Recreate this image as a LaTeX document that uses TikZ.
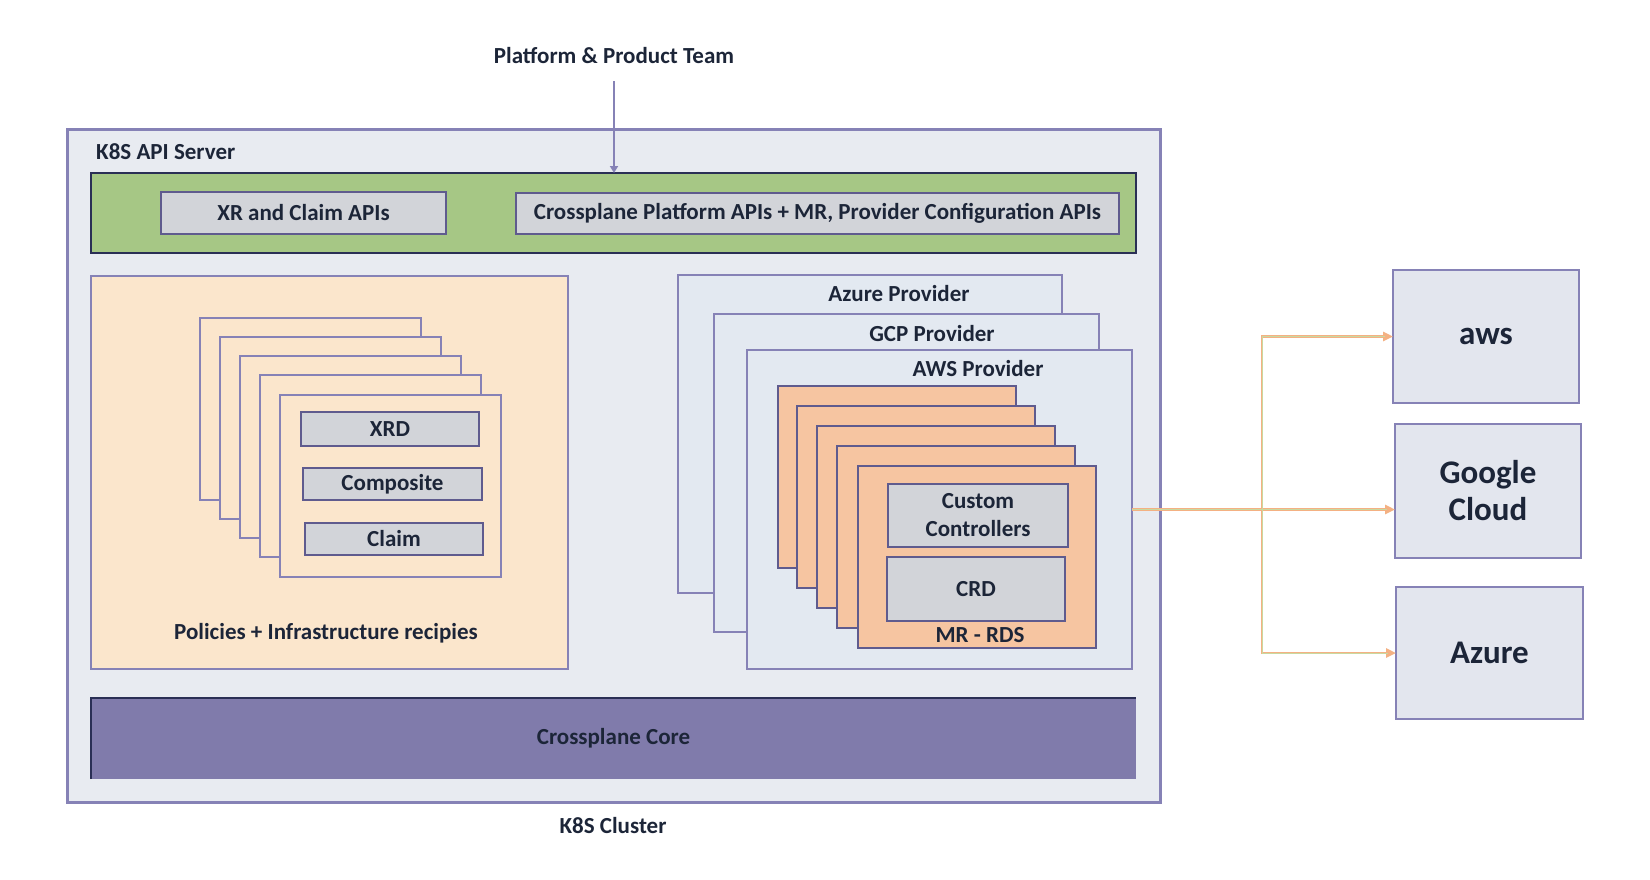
\documentclass[tikz,border=0pt]{standalone}
\usepackage{fontspec}
\setmainfont{Carlito}
\usetikzlibrary{arrows.meta}
\definecolor{purp}{HTML}{8682B6}
\definecolor{purpdark}{HTML}{5F5B8E}
\definecolor{navy}{HTML}{2A2F55}
\definecolor{outerfill}{HTML}{E8EBF1}
\definecolor{apigreen}{HTML}{A6C785}
\definecolor{greyfill}{HTML}{D2D4D9}
\definecolor{peach}{HTML}{FBE6CC}
\definecolor{provfill}{HTML}{E3E9F1}
\definecolor{orangefill}{HTML}{F6C5A1}
\definecolor{corefill}{HTML}{807BAB}
\definecolor{txt}{HTML}{1C2538}
\definecolor{connorange}{HTML}{F4B183}
\definecolor{conngreen}{HTML}{C9D9A0}
\definecolor{cloudfill}{HTML}{E3E6EE}
\begin{document}
\begin{tikzpicture}[x=1pt,y=-1pt,
  every node/.style={text=txt, font=\bfseries\fontsize{23}{28}\selectfont},
  box/.style={rectangle, anchor=north west, inner sep=0pt, outer sep=0pt, line width=2pt, draw=purp},
  lbl/.style={inner sep=0pt, anchor=base},
  apibox/.style={box, fill=greyfill, draw=purpdark, line width=1.3pt},
  leftpage/.style={box, fill=peach, line width=2.5pt, minimum width=221, minimum height=182},
  provbox/.style={box, fill=provfill, line width=2pt, minimum width=385, minimum height=318},
  mrpage/.style={box, fill=orangefill, draw=purpdark, line width=1.5pt, minimum width=238, minimum height=182},
  cloudbox/.style={box, fill=cloudfill, line width=2.5pt, align=center, font=\bfseries\fontsize{33}{37}\selectfont},
  connline/.style={draw=connorange, line width=2.8pt, -{Triangle[length=10pt,width=9pt]}},
  conncore/.style={draw=conngreen, line width=0.5pt},
]
\useasboundingbox[fill=white] (0,0) rectangle (1650,879);

% top label and arrow
\node[lbl] (team) at (614,63) {Platform \& Product Team};

% cluster
\node[box, fill=outerfill, line width=3pt, minimum width=1093, minimum height=673] (cluster) at (67,129) {};
\node[lbl, anchor=base west] (apiserver) at (96,159) {K8S API Server};

% API bar
\node[box, fill=apigreen, draw=navy, line width=1.3pt, minimum width=1045, minimum height=80] (api) at (91,173) {};
\node[apibox, minimum width=285, minimum height=42] (xr) at (161,192) {XR and Claim APIs};
\node[apibox, minimum width=603, minimum height=41] (cpapi) at (516,193) {Crossplane Platform APIs + MR, Provider Configuration APIs};

\draw[purp, line width=2pt, -{Triangle[length=7pt,width=8pt]}] ([yshift=-18pt]team.south) -- (team.south |- api.north);

% recipes area
\node[box, fill=peach, line width=2.5pt, minimum width=477, minimum height=393] (recipes) at (91,276) {};
\node[leftpage] (lp1) at (200,318) {};
\node[leftpage] (lp2) at (220,337) {};
\node[leftpage] (lp3) at (240,356) {};
\node[leftpage] (lp4) at (260,375) {};
\node[leftpage] (lp5) at (280,395) {};
\node[apibox, minimum width=178, minimum height=34] (xrd) at (301,412) {XRD};
\node[apibox, minimum width=179, minimum height=32] (composite) at (303,468) {Composite};
\node[apibox, minimum width=178, minimum height=32] (claim) at (305,523) {Claim};
\node[lbl] (policies) at (326,639) {Policies + Infrastructure recipies};

% providers
\node[provbox, minimum width=384] (azp) at (678,275) {};
\node[lbl] (azplbl) at (899,301) {Azure Provider};
\node[provbox] (gcpp) at (714,314) {};
\node[lbl] (gcplbl) at (932,341) {GCP Provider};
\node[provbox, minimum height=319] (awsp) at (747,350) {};
\node[lbl] (awslbl) at (978,376) {AWS Provider};
\node[mrpage] (mr1) at (778,386) {};
\node[mrpage] (mr2) at (797,406) {};
\node[mrpage] (mr3) at (817,426) {};
\node[mrpage] (mr4) at (837,446) {};
\node[mrpage] (mr5) at (858,466) {};
\node[apibox, minimum width=180, minimum height=63, align=center] (cc) at (888,484) {Custom\\Controllers};
\node[apibox, minimum width=178, minimum height=64] (crd) at (887,557) {CRD};
\node[lbl] (mrrds) at (980,642) {MR - RDS};

% core
\node[box, fill=corefill, draw=none, minimum width=1045, minimum height=81] (core) at (91,698) {Crossplane Core};
\draw[navy, line width=1.3pt] (core.south west) -- (core.north west) -- (core.north east);

\node[lbl] (clusterlbl) at (613,833) {K8S Cluster};

% clouds
\node[cloudbox, minimum width=186, minimum height=133] (awsc) at (1393,270) {aws};
\node[cloudbox, minimum width=186, minimum height=134] (gc) at (1395,424) {Google\\Cloud};
\node[cloudbox, minimum width=187, minimum height=132] (azc) at (1396,587) {Azure};

% connectors
\coordinate (j) at (1262,510);
\draw[connline] (awsp.east) -- (gc.west |- awsp.east);
\draw[connline] (j) |- (awsc.west);
\draw[connline] (j) |- (azc.west);
\draw[conncore] (awsp.east) -- ([xshift=-8pt]gc.west |- awsp.east);
\draw[conncore] (j) |- ([xshift=-8pt]awsc.west);
\draw[conncore] (j) |- ([xshift=-8pt]azc.west);
\end{tikzpicture}
\end{document}
